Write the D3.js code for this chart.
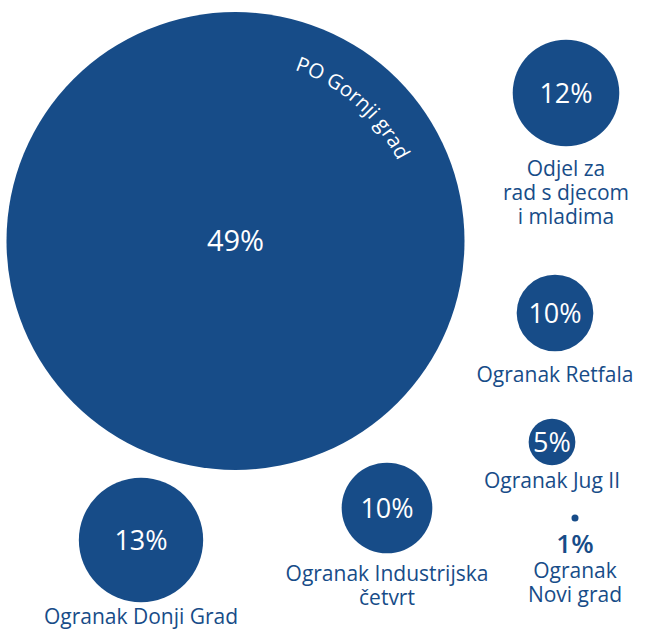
<!DOCTYPE html>
<html>
<head>
<meta charset="utf-8">
<script src="https://cdn.jsdelivr.net/npm/d3@7"></script>
<style>
  body { margin: 0; background: #fff; }
  svg { display: block; }
</style>
</head>
<body>
<div id="chart"></div>
<script>
// data
var names = ["PO Gornji grad", "Odjel za rad s djecom i mladima", "Ogranak Retfala",
             "Ogranak Jug II", "Ogranak Novi grad", "Ogranak Industrijska četvrt", "Ogranak Donji Grad"];
var percentLabels = ["49%", "12%", "10%", "5%", "1%", "10%", "13%"];
// bubble sizes as estimated from the drawn radii
var shares = [49, 11.4, 8.2, 5.0, 0.75, 9.7, 13.3];
var nameLines = [
  ["PO Gornji grad"],
  ["Odjel za", "rad s djecom", "i mladima"],
  ["Ogranak Retfala"],
  ["Ogranak Jug II"],
  ["Ogranak", "Novi grad"],
  ["Ogranak Industrijska", "četvrt"],
  ["Ogranak Donji Grad"]
];

// hand placed layout (centres)
var layout = [
  {cx: 235.5, cy: 241},
  {cx: 566, cy: 93},
  {cx: 555, cy: 313},
  {cx: 552, cy: 442},
  {cx: 575, cy: 518},
  {cx: 387, cy: 508},
  {cx: 141, cy: 540}
];

var blue = "#174c88";
var font = "'Open Sans', sans-serif";

var width = 645, height = 629;

var svg = d3.select("#chart")
  .append("svg")
    .attr("width", width)
    .attr("height", height);

var r = d3.scaleLinear().domain([0, 49]).range([0, 229]);

var nodes = names.map(function(n, i){
  return {name: n, label: percentLabels[i], value: shares[i], lines: nameLines[i],
          cx: layout[i].cx, cy: layout[i].cy, r: r(shares[i])};
});

svg.selectAll("circle.bubble")
  .data(nodes)
  .enter()
  .append("circle")
    .attr("class", "bubble")
    .attr("cx", function(d){ return d.cx; })
    .attr("cy", function(d){ return d.cy; })
    .attr("r", function(d){ return d.r; })
    .style("fill", blue);

// percent labels (white inside, blue under the tiny dot)
svg.selectAll("text.pct")
  .data(nodes)
  .enter()
  .append("text")
    .attr("class", "pct")
    .attr("x", function(d){ return d.cx; })
    .attr("y", function(d, i){ return i == 4 ? d.cy + 35 : d.cy + 10; })
    .attr("text-anchor", "middle")
    .style("font-family", font)
    .style("font-size", function(d, i){ return i == 0 ? "29px" : (i == 4 ? "26px" : "27px"); })
    .style("font-weight", function(d, i){ return i == 4 ? 600 : 500; })
    .style("fill", function(d, i){ return i == 4 ? blue : "#fff"; })
    .text(function(d){ return d.label; });

// curved name on the big circle
var big = nodes[0];
var arcR = 181;
var a0 = 19 * Math.PI / 180, a1 = 88 * Math.PI / 180;
svg.append("path")
  .attr("id", "bigArc")
  .attr("d", "M" + (big.cx + arcR * Math.sin(a0)) + "," + (big.cy - arcR * Math.cos(a0)) +
             " A" + arcR + "," + arcR + " 0 0,1 " +
             (big.cx + arcR * Math.sin(a1)) + "," + (big.cy - arcR * Math.cos(a1)))
  .style("fill", "none");

svg.append("text")
  .style("font-family", font)
  .style("font-size", "20.5px")
  .style("fill", "#fff")
  .append("textPath")
    .attr("href", "#bigArc")
    .text(big.name);

// names under the small bubbles
var labelY = [null, 176, 382, 488, 578, 581, 624];
nodes.forEach(function(d, i){
  if(i == 0) return;
  var t = svg.append("text")
    .attr("text-anchor", "middle")
    .style("font-family", font)
    .style("font-size", "21px")
    .style("fill", blue);
  d.lines.forEach(function(line, j){
    t.append("tspan")
      .attr("x", d.cx)
      .attr("y", labelY[i] + j * 24)
      .text(line);
  });
});
</script>
</body>
</html>
